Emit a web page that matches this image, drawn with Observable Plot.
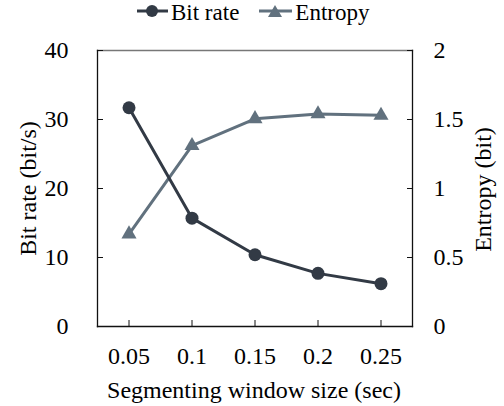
<!DOCTYPE html>
<html>
<head>
<meta charset="utf-8">
<script src="https://cdn.jsdelivr.net/npm/d3@7"></script>
<script src="https://cdn.jsdelivr.net/npm/@observablehq/plot@0.6"></script>
<style>
  body { margin: 0; background: #fff; }
  #wrap { position: relative; width: 504px; height: 406px; }
  #legend { position: absolute; top: 2px; left: 137px; height: 22px; display: flex; align-items: center; gap: 20px; color: #000; font-family: 'Liberation Serif', serif; font-size: 23px; }
  #legend span { line-height: 22px; }
  .item { display: flex; align-items: center; height: 22px; }
</style>
</head>
<body>
<div id="wrap">
  <div id="chart"></div>
  <div id="legend"></div>
</div>
<script>
// Segmenting window sizes (sec)
const windowSizes = [0.05, 0.1, 0.15, 0.2, 0.25];
const xTickLabels = ["0.05", "0.1", "0.15", "0.2", "0.25"];
// Bit rate (bit/s), left axis
const bitRate = [31.7, 15.7, 10.4, 7.7, 6.2];
// Entropy (bit), right axis
const entropy = [0.67, 1.31, 1.505, 1.54, 1.53];
const leftTicks = [0, 10, 20, 30, 40];
const rightTicks = [0, 0.5, 1, 1.5, 2];

const colBit = "#323a45";
const colEnt = "#61717e";
// entropy is drawn on the bit-rate scale: 2 bit ↔ 40 bit/s
const k = 20;

const bitData = windowSizes.map((w, i) => ({w, v: bitRate[i]}));
const entData = windowSizes.map((w, i) => ({w, v: entropy[i] * k}));

const chart = Plot.plot({
  width: 504,
  height: 406,
  marginTop: 50,
  marginLeft: 97,
  marginRight: 92,
  marginBottom: 80,
  style: {background: "#fff", fontFamily: "'Liberation Serif', serif", fontSize: "24px", color: "#000"},
  x: {domain: [0.025, 0.275]},
  y: {domain: [0, 40]},
  marks: [
    Plot.frame({anchor: "top", stroke: "#777", strokeWidth: 1.3}),
    Plot.frame({anchor: "left", stroke: "#111", strokeWidth: 1.3}),
    Plot.frame({anchor: "right", stroke: "#111", strokeWidth: 1.3}),
    Plot.frame({anchor: "bottom", stroke: "#111", strokeWidth: 1.3}),
    Plot.axisX(windowSizes, {tickSize: -6, tickPadding: 26, tickFormat: (d, i) => xTickLabels[i], label: null, stroke: "#111"}),
    Plot.axisY(leftTicks, {anchor: "left", tickSize: -6, tickPadding: 35, label: null, stroke: "#111"}),
    Plot.axisY(rightTicks.map(d => d * k), {anchor: "right", tickSize: -6, tickPadding: 27, tickFormat: d => String(d / k), label: null, stroke: "#111"}),
    Plot.text(["Bit rate (bit/s)"], {frameAnchor: "left", textAnchor: "middle", lineAnchor: "middle", rotate: -90, dx: -69}),
    Plot.text(["Entropy (bit)"], {frameAnchor: "right", textAnchor: "middle", lineAnchor: "middle", rotate: -90, dx: 71, dy: 1}),
    Plot.text(["Segmenting window size (sec)"], {frameAnchor: "bottom", textAnchor: "middle", lineAnchor: "middle", dy: 64, dx: -1}),
    Plot.line(entData, {x: "w", y: "v", stroke: colEnt, strokeWidth: 3}),
    Plot.dot(entData, {x: "w", y: "v", symbol: "triangle", r: 5.6, fill: colEnt, stroke: "none"}),
    Plot.line(bitData, {x: "w", y: "v", stroke: colBit, strokeWidth: 3}),
    Plot.dot(bitData, {x: "w", y: "v", symbol: "circle", r: 6.5, fill: colBit, stroke: "none"})
  ]
});
document.getElementById("chart").appendChild(chart);

// Legend: line with marker, then series name
const legendItems = [
  {name: "Bit rate", color: colBit, symbol: "circle"},
  {name: "Entropy", color: colEnt, symbol: "triangle"}
];
const legend = document.getElementById("legend");
for (const it of legendItems) {
  const item = document.createElement("div");
  item.className = "item";
  const sym = it.symbol === "circle"
    ? `<circle cx="15" cy="9" r="6" fill="${it.color}"/>`
    : `<path d="M16,3 L23,15 L9,15 Z" fill="${it.color}"/>`;
  const w = it.symbol === "circle" ? 31 : 33;
  item.innerHTML = `<svg width="${w}" height="22" style="margin-right:3px"><line x1="0" x2="${w}" y1="9" y2="9" stroke="${it.color}" stroke-width="3"/>${sym}</svg><span>${it.name}</span>`;
  legend.appendChild(item);
}
</script>
</body>
</html>
